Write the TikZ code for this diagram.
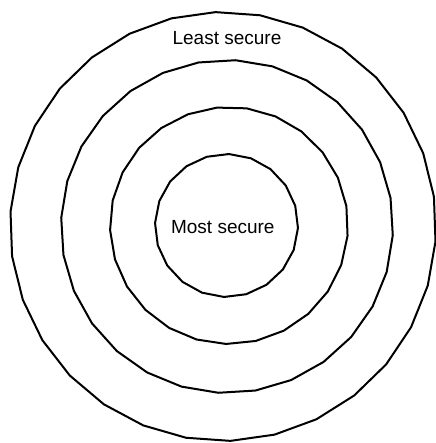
\documentclass[tikz,border=0pt]{standalone}
\usepackage{fontspec}
\setmainfont{Liberation Sans}
\begin{document}
\begin{tikzpicture}[x=1pt,y=-1pt,
  ring/.style={line width=2pt, line join=round},
  lbl/.style={anchor=base, inner sep=0pt, font=\fontsize{19}{22}\selectfont}]
\useasboundingbox (0,0) rectangle (435,443);
\draw[ring] plot[samples=31, domain=0:360] ({223+213*cos(\x+4)},{226.5+214.5*sin(\x+4)}) -- cycle;
\draw[ring] plot[samples=29, domain=0:360] ({227+166*cos(\x+3)},{226.5+166.5*sin(\x+3)}) -- cycle;
\draw[ring] plot[samples=26, domain=0:360] ({229+119*cos(\x+5)},{225.5+118.5*sin(\x+5)}) -- cycle;
\draw[ring] plot[samples=21, domain=0:360] ({226.5+71.5*cos(\x+2)},{225.5+71.5*sin(\x+2)}) -- cycle;
\node[lbl] (least) at (227,44.3) {Least secure};
\node[lbl] (most) at (222.8,233.3) {Most secure};
\end{tikzpicture}
\end{document}
